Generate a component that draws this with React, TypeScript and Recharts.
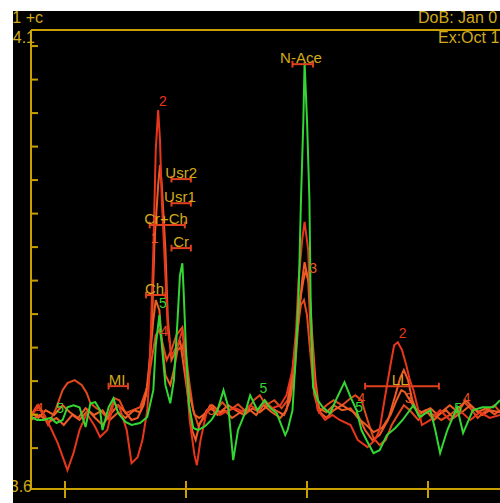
import React from 'react';
import { LineChart, Line, XAxis, YAxis, ReferenceLine, ReferenceDot } from 'recharts';

// ppm (x) domain, reversed, and amplitude (y) domain
const X_MIN = 0.405;
const X_MAX = 4.281;
const Y_MIN = -2.22;
const Y_MAX = 11.48;
const X_TICKS = [4, 3, 2, 1];
const Y_TICKS = [Y_MIN, -1, 0, 1, 2, 3, 4, 5, 6, 7, 8, 9, 10, 11, Y_MAX];
const Y_EDGE_LABELS = { bottom: '3.6', top: '4.1' };
const HEADER_LEFT = '1 +c';
const HEADER_RIGHT_1 = 'DoB: Jan 0';
const HEADER_RIGHT_2 = 'Ex:Oct 1';

// spectra: [ppm, amplitude]
const spec1: [number, number][] = [
  [4.28, -0.16], [4.21, -0.01], [4.14, -0.22], [4.07, -0.1], [4.01, -0.31], [3.94, -0.01], [3.88, -0.16],
  [3.81, 0.13], [3.75, -0.1], [3.69, -0.31], [3.63, -0.01], [3.56, 0.28], [3.5, 0.07], [3.45, -0.16],
  [3.4, -0.1], [3.35, 0.28], [3.31, 1.03], [3.28, 2.82], [3.26, 5.21], [3.23, 6.85], [3.215, 7.45],
  [3.2, 6.85], [3.17, 4.91], [3.15, 2.82], [3.12, 1.63], [3.08, 1.93], [3.05, 2.22], [3.02, 1.48],
  [2.98, 0.43], [2.95, -0.46], [2.92, -0.76], [2.89, -0.31], [2.83, 0.13], [2.78, 0.28], [2.72, 0.07],
  [2.65, 0.28], [2.59, 0.13], [2.52, -0.01], [2.45, 0.19], [2.39, 0.07], [2.32, 0.28], [2.26, 0.13],
  [2.19, -0.01], [2.14, 0.43], [2.1, 1.33], [2.07, 2.82], [2.04, 4.01], [2.02, 4.55], [1.99, 4.01],
  [1.97, 2.52], [1.94, 0.88], [1.91, 0.13], [1.84, -0.1], [1.78, 0.13], [1.71, 0.28], [1.64, 0.13],
  [1.58, -0.01], [1.52, -0.46], [1.46, -0.76], [1.4, -0.61], [1.33, -0.16], [1.27, 0.58], [1.23, 1.09],
  [1.2, 1.33], [1.165, 1.03], [1.13, 0.43], [1.08, -0.01], [1.02, 0.13], [0.95, -0.16], [0.89, 0.07],
  [0.82, 0.28], [0.75, 0.07], [0.69, 0.43], [0.62, 0.19], [0.55, -0.01], [0.49, 0.13], [0.405, 0.07],
];

const spec2: [number, number][] = [
  [4.28, -0.07], [4.22, 0.28], [4.17, -0.01], [4.11, -0.46], [4.06, -0.85], [4.0, -1.45], [3.98, -1.66],
  [3.93, -1.15], [3.88, -0.46], [3.82, 0.04], [3.75, -0.37], [3.71, -0.67], [3.65, -0.46], [3.6, 0.34],
  [3.55, 0.22], [3.49, -0.46], [3.45, -1.45], [3.4, -1.27], [3.36, -0.76], [3.32, 0.13], [3.3, 1.33],
  [3.27, 4.91], [3.25, 7.9], [3.23, 9.09], [3.215, 8.19], [3.2, 6.4], [3.18, 4.91], [3.15, 2.52],
  [3.12, 1.78], [3.07, 2.07], [3.03, 2.52], [3.0, 1.33], [2.97, -0.16], [2.93, -1.21], [2.91, -1.51],
  [2.88, -0.76], [2.83, 0.07], [2.79, 0.28], [2.72, -0.01], [2.65, 0.13], [2.59, 0.19], [2.52, 0.07],
  [2.47, 0.28], [2.4, 0.13], [2.35, 0.43], [2.29, 0.19], [2.22, 0.28], [2.17, 0.58], [2.12, 1.33],
  [2.09, 2.52], [2.07, 4.01], [2.04, 5.21], [2.02, 5.75], [1.99, 4.91], [1.97, 2.82], [1.94, 1.03],
  [1.91, 0.13], [1.85, -0.16], [1.79, -0.01], [1.73, -0.16], [1.64, -0.31], [1.58, -0.76], [1.5, -0.97],
  [1.44, -0.76], [1.4, -0.46], [1.36, 0.43], [1.31, 1.48], [1.28, 2.07], [1.25, 2.16], [1.215, 1.93],
  [1.18, 1.48], [1.15, 1.03], [1.12, 0.73], [1.08, 0.13], [1.05, -0.31], [0.98, -0.16], [0.9, 0.13],
  [0.82, -0.16], [0.74, 0.13], [0.65, -0.16], [0.57, 0.07], [0.49, -0.1], [0.405, -0.01],
];

const spec3: [number, number][] = [
  [4.28, 0.07], [4.22, -0.1], [4.16, 0.13], [4.09, -0.01], [4.02, 0.28], [3.96, 0.07], [3.89, -0.1],
  [3.83, 0.19], [3.76, -0.01], [3.69, 0.13], [3.63, -0.16], [3.56, 0.07], [3.5, -0.1], [3.43, 0.13],
  [3.38, 0.07], [3.33, 0.58], [3.3, 1.63], [3.27, 2.82], [3.25, 3.42], [3.22, 3.12], [3.2, 2.22],
  [3.17, 1.18], [3.13, 0.88], [3.1, 1.33], [3.07, 1.93], [3.03, 2.07], [3.0, 1.48], [2.97, 0.58],
  [2.93, -0.01], [2.89, -0.1], [2.83, 0.07], [2.79, 0.19], [2.74, -0.01], [2.68, 0.13], [2.62, -0.1],
  [2.55, 0.07], [2.49, 0.19], [2.42, -0.01], [2.36, 0.28], [2.29, 0.07], [2.22, -0.1], [2.17, 0.13],
  [2.13, 0.88], [2.1, 1.93], [2.07, 3.12], [2.03, 4.01], [2.01, 4.31], [1.98, 3.87], [1.96, 2.52],
  [1.93, 1.03], [1.9, 0.19], [1.84, 0.07], [1.78, 0.28], [1.71, 0.13], [1.64, 0.19], [1.58, -0.1],
  [1.51, -0.31], [1.45, -0.52], [1.38, -0.4], [1.31, -0.01], [1.26, 0.43], [1.22, 0.73], [1.19, 0.67],
  [1.15, 0.43], [1.11, 0.19], [1.05, 0.07], [0.98, 0.19], [0.92, -0.01], [0.85, 0.13], [0.79, -0.1],
  [0.72, 0.07], [0.65, 0.28], [0.59, 0.07], [0.52, 0.19], [0.45, 0.01], [0.405, 0.13],
];

const spec4: [number, number][] = [
  [4.28, -0.01], [4.23, 0.28], [4.19, 0.07], [4.14, -0.31], [4.08, 0.13], [4.02, 0.73], [3.98, 0.94],
  [3.92, 1.03], [3.86, 0.88], [3.82, 0.64], [3.79, 0.34], [3.74, 0.19], [3.71, 0.13], [3.65, -0.1],
  [3.59, 0.49], [3.55, 0.43], [3.5, 0.04], [3.44, 0.13], [3.38, 0.22], [3.32, 0.82], [3.28, 1.72],
  [3.25, 2.37], [3.22, 2.52], [3.19, 2.07], [3.16, 1.63], [3.12, 1.93], [3.08, 2.37], [3.03, 2.61],
  [3.01, 2.07], [2.975, 1.03], [2.94, 0.13], [2.9, -0.31], [2.85, -0.1], [2.8, 0.28], [2.75, 0.13],
  [2.7, 0.37], [2.64, 0.13], [2.57, 0.31], [2.5, 0.07], [2.44, 0.43], [2.39, 0.58], [2.34, 0.28],
  [2.27, 0.43], [2.21, 0.19], [2.16, 0.43], [2.12, 1.33], [2.08, 2.52], [2.05, 3.27], [2.025, 3.42],
  [2.0, 2.97], [1.975, 1.93], [1.94, 0.58], [1.9, 0.07], [1.84, 0.28], [1.78, 0.43], [1.71, 0.28],
  [1.64, 0.49], [1.6, 0.58], [1.55, 0.43], [1.5, -0.16], [1.45, -0.7], [1.4, -0.91], [1.35, -0.76],
  [1.3, -0.31], [1.25, -0.01], [1.2, 0.28], [1.15, 0.13], [1.08, -0.16], [1.02, 0.07], [0.95, -0.01],
  [0.89, -0.16], [0.82, -0.01], [0.75, 0.19], [0.7, 0.37], [0.65, 0.19], [0.59, -0.1], [0.52, 0.13],
  [0.45, 0.28], [0.405, 0.07],
];

const spec5: [number, number][] = [
  [4.28, -0.07], [4.23, -0.16], [4.18, -0.16], [4.12, -0.1], [4.07, -0.25], [4.02, -0.16], [3.98, 0.22],
  [3.93, 0.28], [3.88, 0.22], [3.83, -0.37], [3.79, 0.34], [3.75, 0.37], [3.71, 0.13], [3.69, -0.46],
  [3.64, 0.22], [3.6, 0.49], [3.56, 0.04], [3.5, -0.22], [3.45, -0.31], [3.38, -0.25], [3.32, -0.07],
  [3.27, 0.73], [3.25, 2.07], [3.22, 2.97], [3.2, 2.07], [3.17, 0.88], [3.13, 0.34], [3.1, 1.03],
  [3.07, 2.82], [3.05, 4.16], [3.03, 4.52], [3.02, 3.72], [3.0, 1.93], [2.975, 0.28], [2.94, -0.4],
  [2.9, -0.46], [2.84, -0.34], [2.79, -0.16], [2.74, 0.13], [2.69, 0.73], [2.65, 0.22], [2.61, -1.36],
  [2.57, -0.46], [2.51, 0.07], [2.47, 0.58], [2.41, 0.13], [2.35, 0.43], [2.31, 0.22], [2.25, 0.04],
  [2.18, -0.61], [2.16, -0.46], [2.12, 0.13], [2.1, 1.33], [2.07, 3.42], [2.05, 6.4], [2.03, 8.79],
  [2.02, 10.52], [2.0, 8.79], [1.98, 6.4], [1.97, 3.42], [1.95, 0.82], [1.91, 0.43], [1.87, 0.22],
  [1.81, 0.04], [1.75, 0.52], [1.69, 0.97], [1.64, 0.52], [1.59, 0.13], [1.55, -0.46], [1.5, -0.82],
  [1.45, -1.15], [1.4, -1.06], [1.34, -0.61], [1.27, -0.4], [1.21, -0.16], [1.12, 0.28], [1.07, -0.07],
  [0.98, 0.13], [0.94, -0.46], [0.9, -1.15], [0.84, -0.46], [0.76, 0.22], [0.71, -0.55], [0.63, 0.13],
  [0.55, 0.22], [0.46, 0.22], [0.405, 0.43],
];

const SERIES_NAMES = ['1', '2', '3', '4', '5'];
const SERIES_DATA = [spec1, spec2, spec3, spec4, spec5];
const SERIES_COLORS = ['#f05a26', '#e8361c', '#ec5e22', '#e24a1c', '#33d633'];
const DRAW_ORDER = [3, 2, 0, 1, 4];

// metabolite markers
const METAB_NAMES = ['N-Ace', 'Usr2', 'Usr1', 'Cr+Ch', 'Cr', 'Ch', 'MI', 'LL'];
const METAB_FROM = [2.12, 3.12, 3.12, 3.3, 3.12, 3.33, 3.64, 1.52];
const METAB_TO = [1.95, 2.96, 2.96, 3.01, 2.96, 3.17, 3.48, 0.91];
const METAB_Y = [10.46, 7.03, 6.31, 5.66, 4.97, 3.57, 0.85, 0.85];
const METAB_TEXT_X = [2.05, 3.04, 3.05, 3.165, 3.04, 3.26, 3.57, 1.23];

// spectrum number tags: [ppm, amplitude, series index]
const TAGS: [number, number, number][] = [
  [3.19, 9.36, 1], [3.26, 5.27, 0], [3.19, 3.33, 4], [3.18, 2.49, 3], [3.03, 2.01, 3],
  [1.95, 4.37, 2], [2.79, 0.13, 2], [2.36, 0.79, 4], [4.04, 0.19, 4], [4.21, 0.19, 3],
  [1.55, 0.49, 3], [1.57, 0.22, 4], [1.21, 2.43, 1], [1.16, 0.49, 2], [0.68, 0.49, 3],
  [0.75, 0.19, 4],
];

const AXIS = '#c9a000';
const TEXT = '#d2aa1a';
const BRACKET = '#e0401e';
const FONT = '"Liberation Sans", Arial, sans-serif';

const YTick = (p: any) => {
  const v = p.payload.value;
  const line = <line x1={p.x} x2={p.x + 7} y1={p.y} y2={p.y} stroke={AXIS} strokeWidth={2} />;
  if (v === Y_MAX) {
    return (
      <g>
        <text x={p.x + 4} y={p.y + 13} textAnchor="end" fill={TEXT} fontSize={16} fontFamily={FONT}>{Y_EDGE_LABELS.top}</text>
      </g>
    );
  }
  if (v === Y_MIN) {
    return (
      <g>
        {line}
        <text x={p.x + 1} y={p.y + 3} textAnchor="end" fill={TEXT} fontSize={16} fontFamily={FONT}>{Y_EDGE_LABELS.bottom}</text>
      </g>
    );
  }
  return line;
};

const XTick = (p: any) => (
  <line x1={p.x} x2={p.x} y1={p.y - 8} y2={p.y + 9} stroke={AXIS} strokeWidth={2} />
);

export default function App() {
  return (
    <div style={{ position: 'fixed', left: 13, top: 11, width: 487, height: 492, background: '#000', overflow: 'hidden' }}>
      <LineChart width={487} height={492} margin={{ top: 19, right: 0, bottom: 0, left: 0 }}>
        <XAxis
          type="number"
          dataKey="x"
          domain={[X_MIN, X_MAX]}
          reversed
          allowDataOverflow
          ticks={X_TICKS}
          tick={<XTick />}
          tickSize={0}
          tickMargin={0}
          height={14}
          axisLine={{ stroke: AXIS, strokeWidth: 2 }}
          tickLine={false}
          interval={0}
        />
        <YAxis
          type="number"
          domain={[Y_MIN, Y_MAX]}
          allowDataOverflow
          ticks={Y_TICKS}
          tick={<YTick />}
          tickSize={0}
          tickMargin={0}
          width={18}
          axisLine={{ stroke: AXIS, strokeWidth: 2 }}
          tickLine={false}
          interval={0}
        />
        <ReferenceLine y={Y_MAX} stroke={AXIS} strokeWidth={2} ifOverflow="visible" />
        {DRAW_ORDER.map((i) => (
          <Line
            key={SERIES_NAMES[i]}
            name={SERIES_NAMES[i]}
            data={SERIES_DATA[i].map(([x, y]) => ({ x, y }))}
            dataKey="y"
            type="linear"
            stroke={SERIES_COLORS[i]}
            strokeWidth={2}
            dot={false}
            isAnimationActive={false}
          />
        ))}
        {METAB_NAMES.map((n, i) => (
          <ReferenceLine
            key={'b' + n}
            segment={[{ x: METAB_FROM[i], y: METAB_Y[i] }, { x: METAB_TO[i], y: METAB_Y[i] }]}
            stroke={BRACKET}
            strokeWidth={2}
            ifOverflow="visible"
          />
        ))}
        {METAB_NAMES.map((n, i) => (
          <ReferenceLine
            key={'cl' + n}
            segment={[{ x: METAB_FROM[i], y: METAB_Y[i] - 0.1 }, { x: METAB_FROM[i], y: METAB_Y[i] + 0.1 }]}
            stroke={BRACKET}
            strokeWidth={2}
            ifOverflow="visible"
          />
        ))}
        {METAB_NAMES.map((n, i) => (
          <ReferenceLine
            key={'cr' + n}
            segment={[{ x: METAB_TO[i], y: METAB_Y[i] - 0.1 }, { x: METAB_TO[i], y: METAB_Y[i] + 0.1 }]}
            stroke={BRACKET}
            strokeWidth={2}
            ifOverflow="visible"
          />
        ))}
        {METAB_NAMES.map((n, i) => (
          <ReferenceDot
            key={'t' + n}
            x={METAB_TEXT_X[i]}
            y={METAB_Y[i]}
            r={0}
            ifOverflow="visible"
            shape={(p: any) => (
              <text x={p.cx} y={p.cy - 1} textAnchor="middle" fill={TEXT} fontSize={15} fontFamily={FONT}>{n}</text>
            )}
          />
        ))}
        {TAGS.map(([x, y, s], i) => (
          <ReferenceDot
            key={'tag' + i}
            x={x}
            y={y}
            r={0}
            ifOverflow="visible"
            shape={(p: any) => (
              <text x={p.cx} y={p.cy + 5} textAnchor="middle" fill={SERIES_COLORS[s]} fontSize={14} fontFamily={FONT}>{SERIES_NAMES[s]}</text>
            )}
          />
        ))}
        <text x={30} y={12} textAnchor="end" fill={TEXT} fontSize={16} fontFamily={FONT}>{HEADER_LEFT}</text>
        <text x={405} y={12} fill={TEXT} fontSize={16} fontFamily={FONT}>{HEADER_RIGHT_1}</text>
        <text x={425} y={32} fill={TEXT} fontSize={16} fontFamily={FONT}>{HEADER_RIGHT_2}</text>
      </LineChart>
    </div>
  );
}
